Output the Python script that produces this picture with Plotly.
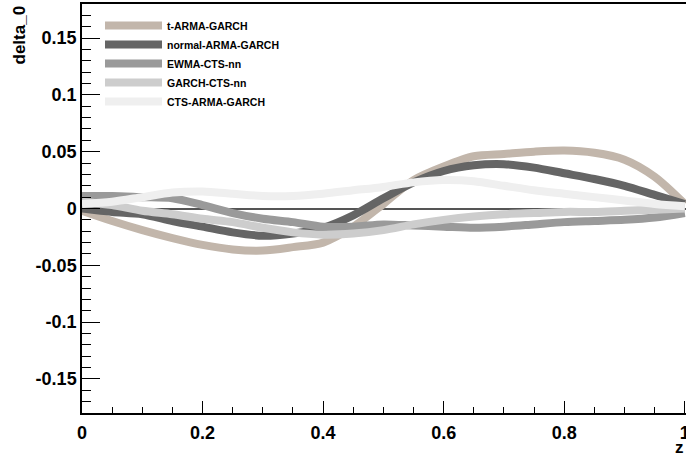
import plotly.graph_objects as go

# ---- data ----
z = [0.00, 0.05, 0.10, 0.15, 0.20, 0.25, 0.30, 0.35, 0.40, 0.45, 0.50,
     0.55, 0.60, 0.65, 0.70, 0.75, 0.80, 0.85, 0.90, 0.95, 1.00]

t_arma_garch = [-0.002, -0.011, -0.019, -0.026, -0.032, -0.036, -0.037, -0.034, -0.030, -0.016, 0.004,
                0.025, 0.037, 0.046, 0.048, 0.050, 0.051, 0.049, 0.043, 0.028, 0.004]
normal_arma_garch = [0.000, -0.003, -0.005, -0.011, -0.016, -0.021, -0.024, -0.022, -0.017, -0.006, 0.009,
                     0.023, 0.033, 0.038, 0.039, 0.036, 0.031, 0.026, 0.020, 0.012, 0.004]
ewma_cts_nn = [0.011, 0.011, 0.010, 0.009, 0.003, -0.004, -0.009, -0.012, -0.016, -0.016, -0.014,
               -0.015, -0.016, -0.017, -0.016, -0.014, -0.012, -0.011, -0.010, -0.008, -0.004]
garch_cts_nn = [0.006, 0.003, -0.002, -0.005, -0.009, -0.012, -0.017, -0.021, -0.023, -0.022, -0.019,
                -0.014, -0.010, -0.007, -0.005, -0.004, -0.003, -0.003, -0.002, -0.001, 0.000]
cts_arma_garch = [0.004, 0.006, 0.010, 0.014, 0.015, 0.013, 0.011, 0.011, 0.013, 0.016, 0.019,
                  0.023, 0.025, 0.024, 0.020, 0.016, 0.013, 0.010, 0.007, 0.004, 0.002]

series_names = ["t-ARMA-GARCH", "normal-ARMA-GARCH", "EWMA-CTS-nn", "GARCH-CTS-nn", "CTS-ARMA-GARCH"]
series_values = [t_arma_garch, normal_arma_garch, ewma_cts_nn, garch_cts_nn, cts_arma_garch]
series_colors = ["#C2B6AB", "#656565", "#9A9A9A", "#CDCDCD", "#EFEFEF"]

x_tickvals = [0, 0.2, 0.4, 0.6, 0.8, 1.0]
x_ticktext = ["0", "0.2", "0.4", "0.6", "0.8", "1"]
y_tickvals = [-0.15, -0.1, -0.05, 0, 0.05, 0.1, 0.15]
y_ticktext = ["-0.15", "-0.1", "-0.05", "0", "0.05", "0.1", "0.15"]

FONT = "Liberation Sans, Arial, sans-serif"

fig = go.Figure()
for name, vals, col in zip(series_names, series_values, series_colors):
    fig.add_trace(go.Scatter(x=z, y=vals, mode="lines", name=name,
                             line=dict(color=col, width=8, shape="spline", smoothing=0.8)))

W, H = 686, 455
ml, mr, mt, mb = 82, 0, 4, 42
pw = W - ml - mr
ph = H - mt - mb

fig.update_layout(
    width=W, height=H,
    margin=dict(l=ml, r=mr, t=mt, b=mb, pad=0, autoexpand=False),
    paper_bgcolor="white", plot_bgcolor="white",
    font=dict(family=FONT, color="black", size=18, weight="bold"),
    showlegend=True,
    legend=dict(x=(100 - ml) / pw, y=1 - 7 / ph, xanchor="left", yanchor="top",
                bgcolor="rgba(255,255,255,0)", borderwidth=0,
                font=dict(family=FONT, size=10.5, weight="bold", color="black"),
                itemwidth=57, tracegroupgap=0),
    xaxis=dict(range=[0, 1.002], showgrid=False, zeroline=False, automargin=False,
               showline=True, linecolor="black", linewidth=1.5, mirror=True,
               ticks="inside", ticklen=12, tickwidth=1, tickcolor="black",
               tickvals=x_tickvals, ticktext=x_ticktext, ticklabeloverflow="allow",
               ticklabelstandoff=3,
               tickfont=dict(family=FONT, size=18, weight="bold"),
               minor=dict(ticks="inside", ticklen=6, dtick=0.05, tickcolor="black", tickwidth=1)),
    yaxis=dict(range=[-0.18, 0.18], showgrid=False, automargin=False,
               zeroline=True, zerolinecolor="#555555", zerolinewidth=1.5,
               showline=True, linecolor="black", linewidth=1.5, mirror=False,
               ticks="inside", ticklen=18, tickwidth=1, tickcolor="black",
               tickvals=y_tickvals, ticktext=y_ticktext, ticklabeloverflow="allow",
               tickfont=dict(family=FONT, size=18, weight="bold"),
               minor=dict(ticks="inside", ticklen=9, dtick=0.01, tickcolor="black", tickwidth=1)),
    annotations=[
        dict(text="delta_0", xref="paper", yref="paper", x=-(ml - 19) / pw, y=1.0,
             xanchor="center", yanchor="top", textangle=-90, showarrow=False,
             font=dict(family=FONT, size=17, weight="bold")),
        dict(text="z", xref="paper", yref="paper", x=1.0, y=-(448 - (H - mb)) / ph,
             xanchor="right", yanchor="middle", showarrow=False,
             font=dict(family=FONT, size=17, weight="bold")),
    ],
)

fig.write_html("out.html")
